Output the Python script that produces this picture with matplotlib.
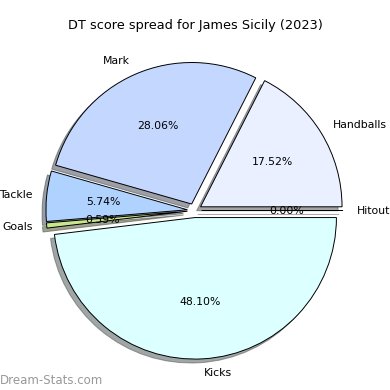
import matplotlib
matplotlib.use("Agg")
import matplotlib.pyplot as plt

labels = ["Hitout", "Handballs", "Mark", "Tackle", "Goals", "Kicks"]
values = [0.0, 17.52, 28.06, 5.74, 0.59, 48.10]
colors = ["#ffffff", "#eaf0ff", "#c4d8ff", "#b0d2ff", "#c8e68a", "#dcffff"]
explode = [0.05] * len(values)

fig = plt.figure(figsize=(3.9, 3.9), dpi=100)
ax = fig.add_axes([0, 0, 1, 1])

# pixel geometry of the pie (radius, centre)
r = 141.5
cx, cy = 194.5, 210.5
ax.pie(values, labels=labels, colors=colors, explode=explode, autopct="%1.2f%%",
       startangle=0, counterclock=True, shadow=True,
       wedgeprops={"edgecolor": "black", "linewidth": 0.7},
       textprops={"fontsize": 7.8})
ax.set_xlim(-cx / r, (390 - cx) / r)
ax.set_ylim(-(390 - cy) / r, cy / r)
ax.set_aspect("equal")
ax.axis("off")

fig.text(0.5, 1 - 25 / 390, "DT score spread for James Sicily (2023)",
         ha="center", va="center", fontsize=9.3)
fig.text(0.0, 1 - 380 / 390, "Dream-Stats.com", ha="left", va="center",
         fontsize=8.5, color="#999999")

plt.savefig("out.png", dpi=100)
